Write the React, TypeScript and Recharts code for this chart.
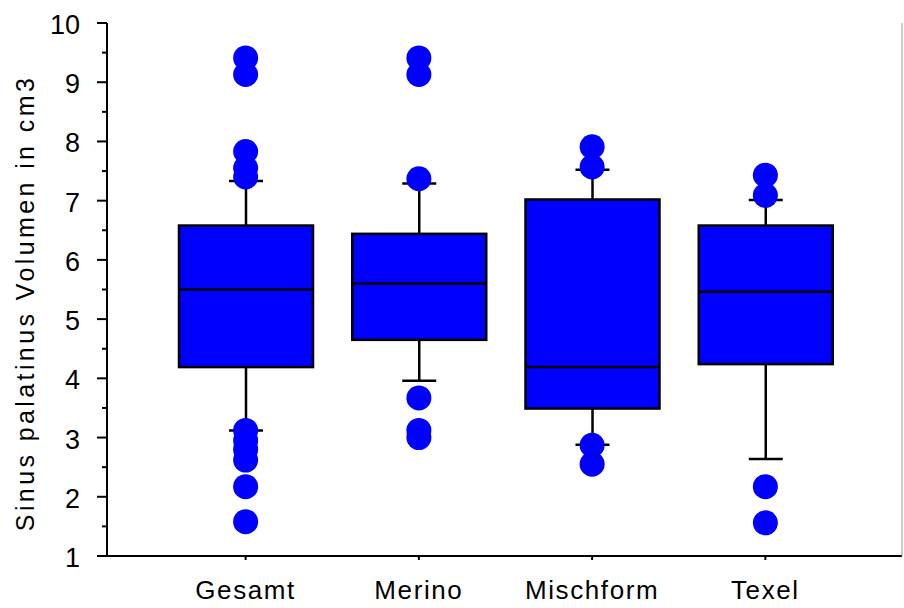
import { ComposedChart, Bar, Scatter, XAxis, YAxis, Label } from 'recharts';

const categories = ['Gesamt', 'Merino', 'Mischform', 'Texel'];
const whiskerLow = [3.12, 3.96, 2.88, 2.64];
const q1 = [4.19, 4.65, 3.49, 4.24];
const median = [5.5, 5.6, 4.19, 5.46];
const q3 = [6.58, 6.44, 7.02, 6.58];
const whiskerHigh = [7.33, 7.29, 7.52, 7.01];
const outliers = [
  [9.41, 9.13, 7.83, 7.55, 7.4, 3.12, 2.95, 2.8, 2.62, 2.17, 1.58],
  [9.41, 9.13, 7.37, 3.67, 3.12, 3.0],
  [7.91, 7.57, 2.87, 2.55],
  [7.43, 7.09, 2.17, 1.56],
];
const yTicks = [1, 1.5, 2, 2.5, 3, 3.5, 4, 4.5, 5, 5.5, 6, 6.5, 7, 7.5, 8, 8.5, 9, 9.5, 10];

const rows = categories.map((name, i) => ({
  name,
  range: [whiskerLow[i], whiskerHigh[i]],
  lo: whiskerLow[i],
  hi: whiskerHigh[i],
  q1: q1[i],
  median: median[i],
  q3: q3[i],
}));

const points = categories.flatMap((name, i) => outliers[i].map((value) => ({ name, value })));

const font = '"Liberation Sans", Arial, sans-serif';
const BLUE = '#0000ff';

// box + whiskers, pixel positions derived from the bar's own (scaled) range
const BoxShape = (props: any) => {
  const { x, y, width, height, payload } = props;
  const { lo, hi } = payload;
  const k = height / (hi - lo);
  const py = (v: number) => y + (hi - v) * k;
  const cx = x + width / 2;
  const cap = 17;
  return (
    <g>
      <line x1={cx} x2={cx} y1={py(hi)} y2={py(lo)} stroke="#000" strokeWidth={2.5} />
      <line x1={cx - cap} x2={cx + cap} y1={py(hi)} y2={py(hi)} stroke="#000" strokeWidth={2.5} />
      <line x1={cx - cap} x2={cx + cap} y1={py(lo)} y2={py(lo)} stroke="#000" strokeWidth={2.5} />
      <rect x={x} y={py(payload.q3)} width={width} height={py(payload.q1) - py(payload.q3)} fill={BLUE} stroke="#000" strokeWidth={2.5} />
      <line x1={x} x2={x + width} y1={py(payload.median)} y2={py(payload.median)} stroke="#000" strokeWidth={2.5} />
    </g>
  );
};

const YTick = (props: any) => {
  const { x, y, payload } = props;
  const v = payload.value;
  const major = Number.isInteger(v);
  return (
    <g>
      <line x1={x} x2={x - (major ? 10 : 5)} y1={y} y2={y} stroke="#000" strokeWidth={2} />
      {major && (
        <text x={x - 27} y={y + 2} textAnchor="end" dominantBaseline="central" fontSize={27} fontFamily={font} fill="#000">
          {v}
        </text>
      )}
    </g>
  );
};

const YTitle = () => {
  const cy = 303;
  const cx = 25;
  return (
    <text
      x={cx}
      y={cy}
      transform={`rotate(-90 ${cx} ${cy})`}
      textAnchor="middle"
      dominantBaseline="central"
      fontSize={25}
      fontFamily={font}
      fill="#000"
      letterSpacing={3.4}
    >
      Sinus palatinus Volumen in cm3
    </text>
  );
};

export default function App() {
  return (
    <div style={{ position: 'absolute', left: 0, top: 0, background: '#fff' }}>
      <ComposedChart width={904} height={608} data={rows} margin={{ top: 23, right: 1, bottom: 0, left: 0 }}>
        <XAxis
          dataKey="name"
          allowDuplicatedCategory={false}
          padding={{ left: 52, right: 50 }}
          height={52}
          axisLine={{ stroke: '#000', strokeWidth: 2 }}
          tickLine={{ stroke: '#000', strokeWidth: 2 }}
          tickSize={4}
          tickMargin={21}
          tick={{ fill: '#000', fontSize: 26, fontFamily: font, letterSpacing: 1.6 }}
        />
        <XAxis
          xAxisId="top"
          dataKey="name"
          orientation="top"
          allowDuplicatedCategory={false}
          padding={{ left: 52, right: 50 }}
          height={0}
          axisLine={{ stroke: '#000', strokeWidth: 2 }}
          tickLine={{ stroke: '#000', strokeWidth: 2 }}
          tickSize={3}
          tick={false}
        />
        <YAxis
          domain={[1, 10]}
          ticks={yTicks}
          interval={0}
          width={107}
          axisLine={{ stroke: '#000', strokeWidth: 2 }}
          tickLine={false}
          tickSize={0}
          tickMargin={0}
          tick={<YTick />}
        >
          <Label content={<YTitle />} />
        </YAxis>
        <YAxis
          yAxisId="right"
          orientation="right"
          domain={[1, 10]}
          width={1}
          tick={false}
          tickLine={false}
          axisLine={{ stroke: '#999', strokeWidth: 1 }}
        />
        <Bar dataKey="range" barSize={134} shape={<BoxShape />} isAnimationActive={false} />
        <Scatter
          data={points}
          dataKey="value"
          isAnimationActive={false}
          shape={(p: any) => <circle cx={p.cx} cy={p.cy} r={12.5} fill={BLUE} />}
        />
      </ComposedChart>
    </div>
  );
}
